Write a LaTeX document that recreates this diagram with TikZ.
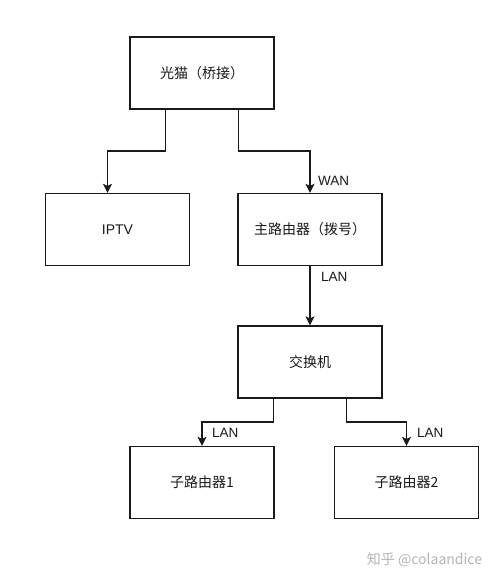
\documentclass[tikz,border=0pt]{standalone}
\usepackage{fontspec}
\setmainfont{Liberation Sans}
\newfontfamily\cjk{Noto Sans CJK SC}
\usetikzlibrary{arrows.meta,calc}
\definecolor{ink}{HTML}{1A1A1A}
\definecolor{wm}{HTML}{B4B4B4}
\begin{document}
\begin{tikzpicture}[x=1pt,y=-1pt,
  box/.style={draw=ink,line width=1.3pt,fill=white,minimum width=144pt,minimum height=72pt,inner sep=0pt,font=\cjk\fontsize{14}{16}\selectfont,text=ink},
  conn/.style={draw=ink,line width=1.3pt,-{Stealth[length=9pt,width=9pt,inset=2pt]}},
  lbl/.style={font=\fontsize{13.5}{15}\selectfont,text=ink,anchor=west,inner sep=0pt}]
\useasboundingbox (0,0) rectangle (500,581);
\fill[white] (0,0) rectangle (500,581);
\node[box] (modem) at (202,73) {光猫（桥接）};
\node[box,font=\fontsize{14}{16}\selectfont] (iptv) at (117.5,229.5) {IPTV};
\node[box] (router) at (310,229.5) {主路由器（拨号）};
\node[box] (switch) at (310,362) {交换机};
\node[box] (sub1) at (202,482.5) {子路由器1};
\node[box] (sub2) at (406.5,482.5) {子路由器2};
\coordinate (m1) at ($(modem.south west)!0.25!(modem.south east)$);
\coordinate (m2) at ($(modem.south west)!0.75!(modem.south east)$);
\coordinate (s1) at ($(switch.south west)!0.25!(switch.south east)$);
\coordinate (s2) at ($(switch.south west)!0.75!(switch.south east)$);
\coordinate (c1) at (107.5,151);
\coordinate (c2) at (310,151);
\coordinate (c3) at (202,422);
\coordinate (c4) at (406.5,422);
\draw[conn] (m1) |- (c1) -- (c1 |- iptv.north);
\draw[conn] (m2) |- (c2) -- (router.north);
\draw[conn] (router.south) -- (switch.north);
\draw[conn] (s1) |- (c3) -- (sub1.north);
\draw[conn] (s2) |- (c4) -- (sub2.north);
\node[lbl] (wan) at (318,181) {WAN};
\node[lbl] (lan0) at (321,277) {LAN};
\node[lbl] (lan1) at (212,433) {LAN};
\node[lbl] (lan2) at (417,433) {LAN};
\node[font=\cjk\fontsize{14}{16}\selectfont,text=wm,inner sep=0pt] (mark) at (424.5,560) {知乎 @colaandice};
\end{tikzpicture}
\end{document}
